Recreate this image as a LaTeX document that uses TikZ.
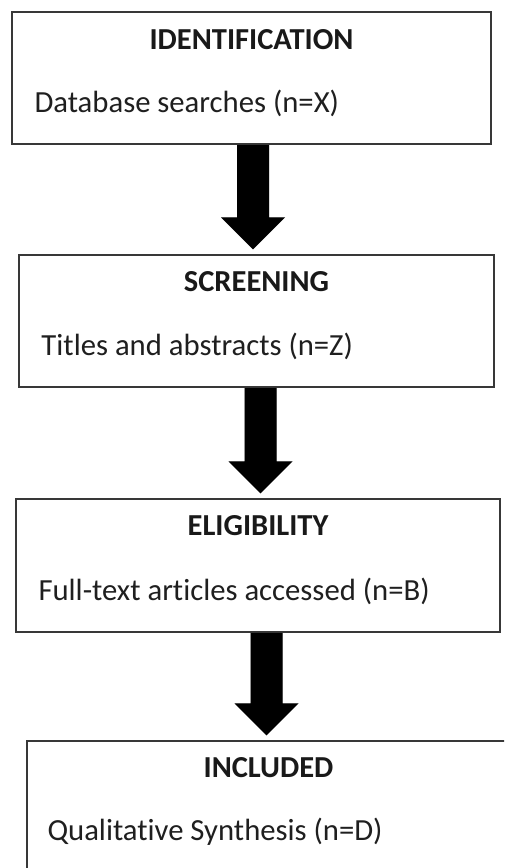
\documentclass[tikz,border=0pt]{standalone}
\usepackage{fontspec}
\setmainfont[Ligatures=NoCommon]{Carlito}
\usetikzlibrary{calc}
\tikzset{
  box/.style={draw=black!78, line width=1.4pt, fill=white, inner sep=0pt, rectangle},
  title/.style={font=\fontsize{30.5}{32}\selectfont\bfseries, anchor=base, inner sep=0pt, text=black!90},
  body/.style={font=\fontsize{30.7}{32}\selectfont, anchor=base west, inner sep=0pt, text=black!88},
  fatarrow/.style={fill=black},
  fatshadow/.style={fill=black!35, opacity=0.7}
}
\newcommand\fatarrow[3]{% #1 = x of arrow axis, #2 = from node, #3 = to node
  \coordinate (ax) at (#1,0);
  \coordinate (top) at (ax |- #2.south);
  \coordinate (tip) at ($(ax |- #3.north)+(0,-5)$);
  \coordinate (hs) at ($(tip)+(0,-32)$);
  \foreach \dx/\dy/\sty in {3/3/fatshadow,0/0/fatarrow}{
    \fill[\sty, shift={(\dx,\dy)}] ($(top)+(-16,0)$) -- ($(top)+(16,0)$) -- ($(hs)+(16,0)$)
      -- ($(hs)+(32,0)$) -- (tip) -- ($(hs)+(-32,0)$) -- ($(hs)+(-16,0)$) -- cycle;
  }
}
\begin{document}
\begin{tikzpicture}[x=1pt,y=-1pt]
\useasboundingbox (0,0) rectangle (504,868);
\fill[white] (0,0) rectangle (504,868);
\begin{scope}
\clip (0,0) rectangle (504,868);
% boxes
\node[box, minimum width=479pt, minimum height=132pt] (b1) at (251.5,78) {};
\node[box, minimum width=475pt, minimum height=132pt] (b2) at (256.5,321) {};
\node[box, minimum width=484pt, minimum height=133pt] (b3) at (258,565.5) {};
\node[box, minimum width=493pt, minimum height=159pt] (b4) at (273.5,820.5) {};
% texts
\node[title] (t1) at ($(b1.north)+(0,38)$) {IDENTIFICATION};
\node[body]  (d1) at ($(b1.north west)+(23,101)$) {Database searches (n=X)};
\node[title] (t2) at ($(b2.north)+(0,37)$) {SCREENING};
\node[body]  (d2) at ($(b2.north west)+(23,101)$) {Titles and abstracts (n=Z)};
\node[title] (t3) at ($(b3.north)+(0,37)$) {ELIGIBILITY};
\node[body]  (d3) at ($(b3.north west)+(23,102)$) {Full-text articles accessed (n=B)};
\node[title] (t4) at ($(b4.north)+(-5,37)$) {INCLUDED};
\node[body]  (d4) at ($(b4.north west)+(21,100)$) {Qualitative Synthesis (n=D)};
% arrows
\fatarrow{253}{b1}{b2}
\fatarrow{260.5}{b2}{b3}
\fatarrow{266.5}{b3}{b4}
\end{scope}
\end{tikzpicture}
\end{document}
